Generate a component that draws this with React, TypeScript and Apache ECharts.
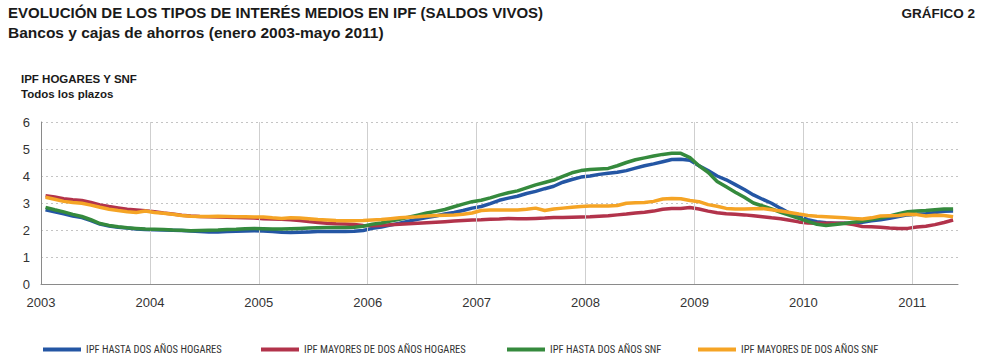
import React, { useEffect, useRef } from "react";
import * as echarts from "echarts";

const START_YEAR = 2003;
const yearTicks = [2004, 2005, 2006, 2007, 2008, 2009, 2010, 2011];

const seriesNames = [
  "IPF HASTA DOS AÑOS HOGARES",
  "IPF MAYORES DE DOS AÑOS HOGARES",
  "IPF HASTA DOS AÑOS SNF",
  "IPF MAYORES DE DOS AÑOS SNF",
];

// Monthly values, January 2003 to May 2011
const hastaHogares = [
  2.75, 2.67, 2.6, 2.52, 2.46, 2.35, 2.22, 2.15, 2.1, 2.07, 2.04, 2.02,
  2.01, 2.0, 1.99, 1.98, 1.96, 1.94, 1.93, 1.93, 1.94, 1.95, 1.96, 1.97,
  1.96, 1.94, 1.92, 1.91, 1.92, 1.93, 1.94, 1.94, 1.94, 1.94, 1.95, 1.98,
  2.06, 2.11, 2.18, 2.25, 2.33, 2.4, 2.46, 2.52, 2.59, 2.65, 2.72, 2.81,
  2.87, 2.98, 3.1, 3.18, 3.25, 3.35, 3.43, 3.53, 3.62, 3.77, 3.87, 3.96,
  4.0, 4.06, 4.1, 4.14, 4.2, 4.29, 4.38, 4.45, 4.53, 4.61, 4.62, 4.58,
  4.38, 4.2, 4.0, 3.86, 3.68, 3.5, 3.3, 3.14, 2.99, 2.8, 2.62, 2.5,
  2.38, 2.31, 2.27, 2.25, 2.25, 2.26, 2.29, 2.34, 2.38, 2.43, 2.5, 2.56,
  2.58, 2.6, 2.65, 2.69, 2.7,
];

const mayoresHogares = [
  3.27, 3.22, 3.16, 3.12, 3.09, 3.02, 2.93, 2.87, 2.82, 2.77, 2.74, 2.71,
  2.68, 2.63, 2.59, 2.55, 2.52, 2.5, 2.49, 2.48, 2.47, 2.46, 2.45, 2.44,
  2.42, 2.41, 2.4, 2.38, 2.35, 2.31, 2.28, 2.25, 2.23, 2.22, 2.2, 2.17,
  2.16, 2.17, 2.19, 2.21, 2.23, 2.25, 2.27, 2.29, 2.31, 2.33, 2.35, 2.37,
  2.38, 2.4, 2.41, 2.43, 2.42, 2.42, 2.43, 2.44, 2.46, 2.46, 2.47, 2.48,
  2.49, 2.51, 2.53, 2.56, 2.59, 2.63, 2.66, 2.7, 2.77, 2.8, 2.8, 2.83,
  2.78, 2.7, 2.64, 2.6, 2.58, 2.56, 2.53, 2.49, 2.45, 2.42, 2.36, 2.3,
  2.26, 2.25, 2.25, 2.25, 2.25, 2.2, 2.13, 2.12, 2.1, 2.07, 2.06, 2.06,
  2.11, 2.14, 2.2, 2.28, 2.37,
];

const hastaSNF = [
  2.84, 2.75, 2.67, 2.58, 2.5, 2.38, 2.24, 2.17, 2.12, 2.08, 2.06, 2.04,
  2.03, 2.02, 2.0, 1.99, 1.97, 1.98, 1.99, 2.0, 2.02, 2.03, 2.05, 2.06,
  2.05, 2.04, 2.04, 2.05, 2.06, 2.07, 2.08, 2.09, 2.09, 2.09, 2.1, 2.14,
  2.21, 2.26, 2.33, 2.4, 2.47, 2.55, 2.63, 2.69, 2.76, 2.86, 2.96, 3.05,
  3.1, 3.19, 3.29, 3.38, 3.45, 3.56, 3.67, 3.76, 3.85, 3.99, 4.12, 4.2,
  4.24, 4.26, 4.28, 4.38, 4.5, 4.6, 4.67, 4.74, 4.8, 4.84, 4.84, 4.68,
  4.38, 4.14, 3.8, 3.6, 3.4, 3.21, 3.0, 2.89, 2.78, 2.65, 2.54, 2.43,
  2.32, 2.21, 2.17, 2.2, 2.24, 2.29, 2.33, 2.39, 2.44, 2.52, 2.6, 2.68,
  2.7, 2.72, 2.75, 2.78, 2.78,
];

const mayoresSNF = [
  3.21, 3.14, 3.06, 3.02, 2.99, 2.92, 2.84, 2.77, 2.72, 2.68, 2.65, 2.7,
  2.65, 2.62, 2.58, 2.54, 2.51, 2.5, 2.5, 2.51, 2.5, 2.49, 2.49, 2.48,
  2.48, 2.45, 2.43, 2.45, 2.44, 2.42, 2.39, 2.37, 2.35, 2.34, 2.34, 2.35,
  2.37, 2.39, 2.42, 2.45, 2.47, 2.49, 2.52, 2.54, 2.55, 2.56, 2.58, 2.63,
  2.72, 2.74, 2.74, 2.74, 2.74, 2.77, 2.81, 2.72, 2.78, 2.81, 2.84, 2.87,
  2.89, 2.89, 2.89, 2.91, 2.99, 3.01, 3.02, 3.06, 3.15, 3.17, 3.16, 3.09,
  3.05, 2.94, 2.88, 2.8, 2.78, 2.78, 2.79, 2.8, 2.75, 2.7, 2.65, 2.59,
  2.54, 2.51, 2.49, 2.47, 2.45, 2.43, 2.41, 2.45, 2.52, 2.53, 2.54, 2.58,
  2.57, 2.52, 2.55, 2.54, 2.49,
];

const seriesValues = [hastaHogares, mayoresHogares, hastaSNF, mayoresSNF];
const colors = ["#2456a4", "#b2334b", "#358a3d", "#f5a425"];

const legendLeft = [38, 256, 502, 693];

const toPoints = (vals: number[]) =>
  vals.map((v, i) => [START_YEAR + (i + 0.5) / 12, v]);

export default function App() {
  const ref = useRef<HTMLDivElement>(null);

  useEffect(() => {
    if (!ref.current) return;
    const chart = echarts.init(ref.current, null, { renderer: "svg" });
    const font = "'Liberation Sans', Arial, Helvetica, sans-serif";
    const narrow =
      "'Liberation Sans Narrow', 'Roboto Condensed', 'Liberation Sans', sans-serif";

    const series: any[] = seriesValues.map((vals, k) => ({
      name: seriesNames[k],
      type: "line",
      data: toPoints(vals),
      showSymbol: false,
      symbol: "none",
      lineStyle: { width: 3.5, color: colors[k] },
      itemStyle: { color: colors[k] },
      z: 3 + k,
    }));
    series.push({
      name: "grid-years",
      type: "line",
      data: [],
      silent: true,
      z: 1,
      markLine: {
        silent: true,
        symbol: "none",
        label: { show: false },
        lineStyle: { color: "#cfcfcf", type: "solid", width: 1 },
        data: yearTicks.map((y) => ({ xAxis: y })),
      },
    });

    chart.setOption({
      animation: false,
      backgroundColor: "#ffffff",
      textStyle: { fontFamily: font },
      grid: { left: 41, right: 31, top: 122, bottom: 75, containLabel: false },
      graphic: [
        {
          type: "text",
          left: 8,
          top: 5,
          style: {
            text: "EVOLUCIÓN DE LOS TIPOS DE INTERÉS MEDIOS EN IPF (SALDOS VIVOS)",
            font: `bold 15px ${font}`,
            fill: "#1a1a1a",
          },
        },
        {
          type: "text",
          left: 8,
          top: 24,
          style: {
            text: "Bancos y cajas de ahorros (enero 2003-mayo 2011)",
            font: `bold 15.5px ${font}`,
            fill: "#1a1a1a",
          },
        },
        {
          type: "text",
          right: 14,
          top: 6,
          style: {
            text: "GRÁFICO 2",
            font: `bold 13.5px ${font}`,
            fill: "#1a1a1a",
          },
        },
        {
          type: "text",
          left: 21,
          top: 73,
          style: {
            text: "IPF HOGARES Y SNF",
            font: `bold 11.5px ${font}`,
            fill: "#1a1a1a",
          },
        },
        {
          type: "text",
          left: 21,
          top: 88,
          style: {
            text: "Todos los plazos",
            font: `bold 11.5px ${font}`,
            fill: "#1a1a1a",
          },
        },
      ],
      legend: seriesNames.map((name, k) => ({
        data: [name],
        left: legendLeft[k],
        top: 339,
        icon: "rect",
        itemWidth: 38,
        itemHeight: 4,
        selectedMode: false,
        textStyle: {
          fontFamily: narrow,
          fontSize: 10.5,
          color: "#333",
        },
      })),
      xAxis: {
        type: "value",
        min: START_YEAR,
        max: 2011.42,
        interval: 1,
        axisLine: { show: true, lineStyle: { color: "#8a8a8a", width: 1 } },
        axisTick: { show: false },
        splitLine: { show: false },
        axisLabel: {
          color: "#333",
          fontSize: 13,
          margin: 12,
          showMaxLabel: false,
          formatter: (v: number) =>
            Math.abs(v - Math.round(v)) < 1e-6 ? String(Math.round(v)) : "",
        },
      },
      yAxis: {
        type: "value",
        min: 0,
        max: 6,
        interval: 1,
        axisLine: { show: true, lineStyle: { color: "#8a8a8a", width: 1 } },
        axisTick: { show: false },
        axisLabel: { color: "#333", fontSize: 13, margin: 11 },
        splitLine: {
          show: true,
          lineStyle: { color: "#c4c4c4", type: [2, 3], width: 1 },
        },
      },
      series,
    });

    return () => chart.dispose();
  }, []);

  return <div ref={ref} style={{ width: 989, height: 359, position: "absolute", left: 0, top: 0 }} />;
}
